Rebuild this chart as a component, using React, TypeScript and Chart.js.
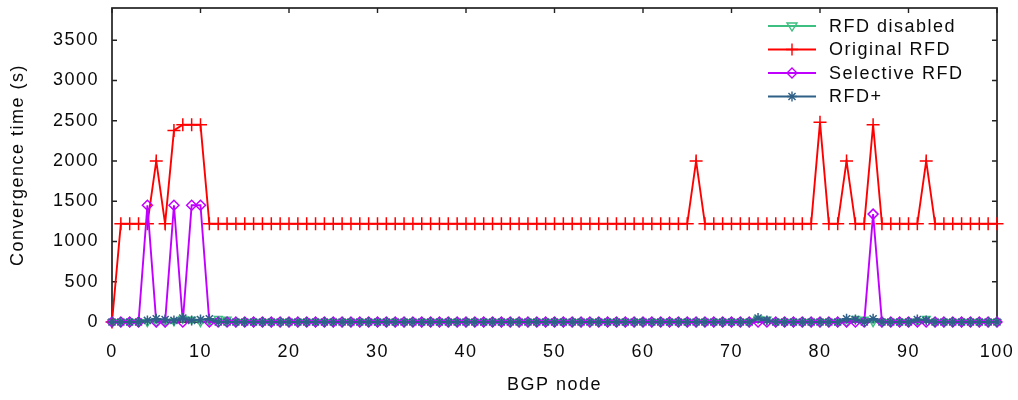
import React, { useEffect, useRef } from 'react';
import { Chart, registerables } from 'chart.js';

Chart.register(...registerables);

const nodes = [
  0, 1, 2, 3, 4, 5, 6, 7, 8, 9, 10, 11, 12, 13, 14, 15, 16, 17, 18, 19, 20,
  21, 22, 23, 24, 25, 26, 27, 28, 29, 30, 31, 32, 33, 34, 35, 36, 37, 38, 39, 40,
  41, 42, 43, 44, 45, 46, 47, 48, 49, 50, 51, 52, 53, 54, 55, 56, 57, 58, 59, 60,
  61, 62, 63, 64, 65, 66, 67, 68, 69, 70, 71, 72, 73, 74, 75, 76, 77, 78, 79, 80,
  81, 82, 83, 84, 85, 86, 87, 88, 89, 90, 91, 92, 93, 94, 95, 96, 97, 98, 99, 100,
];

const rfdDisabled = [
  0, 0, 0, 0, 0, 0, 0, 10, 40, 30, 0, 10, 40, 30, 0, 0, 0, 0, 0, 0, 0,
  0, 0, 0, 0, 0, 0, 0, 0, 0, 0, 0, 0, 0, 0, 0, 0, 0, 0, 0, 0,
  0, 0, 0, 0, 0, 0, 0, 0, 0, 0, 0, 0, 0, 0, 0, 0, 0, 0, 0, 0,
  0, 0, 0, 0, 0, 0, 0, 0, 0, 0, 0, 0, 40, 30, 0, 0, 0, 0, 0, 0,
  0, 0, 0, 40, 30, 0, 0, 0, 0, 0, 10, 40, 0, 0, 0, 0, 0, 0, 0, 0,
];

const originalRfd = [
  0, 1220, 1220, 1220, 1220, 2000, 1220, 2380, 2450, 2450, 2450, 1220, 1220, 1220, 1220, 1220, 1220, 1220, 1220, 1220, 1220,
  1220, 1220, 1220, 1220, 1220, 1220, 1220, 1220, 1220, 1220, 1220, 1220, 1220, 1220, 1220, 1220, 1220, 1220, 1220, 1220,
  1220, 1220, 1220, 1220, 1220, 1220, 1220, 1220, 1220, 1220, 1220, 1220, 1220, 1220, 1220, 1220, 1220, 1220, 1220, 1220,
  1220, 1220, 1220, 1220, 1220, 2000, 1220, 1220, 1220, 1220, 1220, 1220, 1220, 1220, 1220, 1220, 1220, 1220, 1220, 2480,
  1220, 1220, 2000, 1220, 1220, 2450, 1220, 1220, 1220, 1220, 1220, 2000, 1220, 1220, 1220, 1220, 1220, 1220, 1220, 1220,
];

const selectiveRfd = [
  0, 0, 0, 0, 1450, 0, 0, 1450, 0, 1450, 1450, 0, 0, 0, 0, 0, 0, 0, 0, 0, 0,
  0, 0, 0, 0, 0, 0, 0, 0, 0, 0, 0, 0, 0, 0, 0, 0, 0, 0, 0, 0,
  0, 0, 0, 0, 0, 0, 0, 0, 0, 0, 0, 0, 0, 0, 0, 0, 0, 0, 0, 0,
  0, 0, 0, 0, 0, 0, 0, 0, 0, 0, 0, 0, 0, 0, 0, 0, 0, 0, 0, 0,
  0, 0, 0, 0, 0, 1340, 0, 0, 0, 0, 0, 0, 0, 0, 0, 0, 0, 0, 0, 0,
];

const rfdPlus = [
  0, 0, 0, 0, 20, 40, 30, 20, 50, 20, 30, 40, 0, 0, 0, 0, 0, 0, 0, 0, 0,
  0, 0, 0, 0, 0, 0, 0, 0, 0, 0, 0, 0, 0, 0, 0, 0, 0, 0, 0, 0,
  0, 0, 0, 0, 0, 0, 0, 0, 0, 0, 0, 0, 0, 0, 0, 0, 0, 0, 0, 0,
  0, 0, 0, 0, 0, 0, 0, 0, 0, 0, 0, 0, 50, 20, 0, 0, 0, 0, 0, 0,
  0, 0, 40, 30, 0, 40, 0, 0, 0, 0, 30, 20, 0, 0, 0, 0, 0, 0, 0, 0,
];

const xTickValues = [0, 10, 20, 30, 40, 50, 60, 70, 80, 90, 100];
const yTickValues = [0, 500, 1000, 1500, 2000, 2500, 3000, 3500];

const seriesNames = ['RFD disabled', 'Original RFD', 'Selective RFD', 'RFD+'];
const seriesColors = ['#3cbf80', '#ff0000', '#c000ff', '#2f6088'];
const seriesMarkers = ['triangleDown', 'cross', 'diamond', 'star'];

const FONT = '"Liberation Sans", Arial, sans-serif';
const TEXT_COLOR = '#0a0a0a';
const SPACING = '1.5px';

function drawMarker(ctx: CanvasRenderingContext2D, kind: string, x: number, y: number, r: number) {
  ctx.beginPath();
  if (kind === 'triangleDown') {
    ctx.moveTo(x - r, y - r * 0.6);
    ctx.lineTo(x + r, y - r * 0.6);
    ctx.lineTo(x, y + r);
    ctx.closePath();
  } else if (kind === 'cross') {
    ctx.moveTo(x - r, y);
    ctx.lineTo(x + r, y);
    ctx.moveTo(x, y - r);
    ctx.lineTo(x, y + r);
  } else if (kind === 'diamond') {
    ctx.moveTo(x, y - r);
    ctx.lineTo(x + r, y);
    ctx.lineTo(x, y + r);
    ctx.lineTo(x - r, y);
    ctx.closePath();
  } else {
    const d = r * Math.SQRT1_2;
    ctx.moveTo(x - r, y);
    ctx.lineTo(x + r, y);
    ctx.moveTo(x, y - r);
    ctx.lineTo(x, y + r);
    ctx.moveTo(x - d, y - d);
    ctx.lineTo(x + d, y + d);
    ctx.moveTo(x - d, y + d);
    ctx.lineTo(x + d, y - d);
  }
  ctx.stroke();
}

const spacingPlugin = {
  id: 'spacing',
  beforeLayout(chart: any) {
    (chart.ctx as any).letterSpacing = SPACING;
  },
  beforeDraw(chart: any) {
    (chart.ctx as any).letterSpacing = SPACING;
  },
};

const framePlugin = {
  id: 'frame',
  beforeDatasetsDraw(chart: any) {
    const { ctx, chartArea: a, scales } = chart;
    ctx.save();
    ctx.strokeStyle = '#222222';
    ctx.lineWidth = 1.7;
    ctx.strokeRect(a.left, a.top, a.right - a.left, a.bottom - a.top);
    ctx.lineWidth = 1.4;
    ctx.beginPath();
    scales.y.ticks.forEach((t: any) => {
      const py = scales.y.getPixelForValue(t.value);
      ctx.moveTo(a.left, py);
      ctx.lineTo(a.left + 5, py);
      ctx.moveTo(a.right, py);
      ctx.lineTo(a.right - 5, py);
    });
    scales.x.ticks.forEach((t: any) => {
      const px = scales.x.getPixelForValue(t.value);
      ctx.moveTo(px, a.bottom);
      ctx.lineTo(px, a.bottom - 5);
      ctx.moveTo(px, a.top);
      ctx.lineTo(px, a.top + 5);
    });
    ctx.stroke();
    ctx.restore();
  },
  afterDatasetsDraw(chart: any) {
    const { ctx, chartArea: a } = chart;
    ctx.save();
    (ctx as any).letterSpacing = SPACING;
    const lineStart = a.right - 229;
    const lineEnd = a.right - 181;
    const markX = (lineStart + lineEnd) / 2;
    const textX = a.right - 168;
    const rowTop = a.top + 18;
    const rowStep = 23.5;
    ctx.font = `18px ${FONT}`;
    ctx.textBaseline = 'middle';
    ctx.textAlign = 'left';
    seriesNames.forEach((name, i) => {
      const y = rowTop + i * rowStep;
      ctx.strokeStyle = seriesColors[i];
      ctx.lineWidth = 1.8;
      ctx.beginPath();
      ctx.moveTo(lineStart, y);
      ctx.lineTo(lineEnd, y);
      ctx.stroke();
      ctx.lineWidth = 1.4;
      const r = seriesMarkers[i] === 'cross' ? 6 : 5;
      drawMarker(ctx, seriesMarkers[i], markX, y, r);
      ctx.fillStyle = TEXT_COLOR;
      ctx.fillText(name, textX, y + 1);
    });
    ctx.restore();
  },
};

export default function App() {
  const canvasRef = useRef<HTMLCanvasElement | null>(null);

  useEffect(() => {
    if (!canvasRef.current) return;
    const series = [rfdDisabled, originalRfd, selectiveRfd, rfdPlus];
    const pointStyles: any[] = ['triangle', 'cross', 'rectRot', 'star'];
    const rotations = [180, 0, 0, 0];
    const radii = [4.5, 6.5, 5, 5];
    const orders = [4, 3, 2, 1];
    const datasets = series.map((vals, i) => ({
      label: seriesNames[i],
      data: vals.map((v, j) => ({ x: nodes[j], y: v })),
      borderColor: seriesColors[i],
      backgroundColor: 'rgba(0,0,0,0)',
      borderWidth: 1.9,
      pointStyle: pointStyles[i],
      pointRotation: rotations[i],
      pointRadius: radii[i],
      pointBorderWidth: 1.5,
      pointBorderColor: seriesColors[i],
      pointBackgroundColor: 'rgba(0,0,0,0)',
      tension: 0,
      fill: false,
      clip: false as any,
      order: orders[i],
    }));

    const chart = new Chart(canvasRef.current, {
      type: 'line',
      data: { datasets },
      options: {
        animation: false,
        responsive: true,
        maintainAspectRatio: false,
        layout: { padding: { top: 7, right: 21, left: 0, bottom: 0 } },
        plugins: {
          legend: { display: false },
          tooltip: { enabled: false },
        },
        scales: {
          x: {
            type: 'linear',
            min: 0,
            max: 100,
            grid: { display: false, drawTicks: false },
            border: { display: false },
            afterBuildTicks: (s: any) => {
              s.ticks = xTickValues.map((v) => ({ value: v }));
            },
            ticks: {
              padding: 19,
              autoSkip: false,
              maxRotation: 0,
              color: TEXT_COLOR,
              font: { family: FONT, size: 18 },
              callback: (v: any) => String(v),
            },
            title: {
              display: true,
              text: 'BGP node',
              color: TEXT_COLOR,
              font: { family: FONT, size: 18 },
              padding: { top: 0, bottom: 4 },
            },
            afterFit: (s: any) => {
              s.height = 78;
              s.paddingLeft = 0;
              s.paddingRight = 0;
            },
          },
          y: {
            type: 'linear',
            min: 0,
            max: 3900,
            grid: { display: false, drawTicks: false },
            border: { display: false },
            afterBuildTicks: (s: any) => {
              s.ticks = yTickValues.map((v) => ({ value: v }));
            },
            ticks: {
              padding: 13,
              color: TEXT_COLOR,
              font: { family: FONT, size: 18 },
              callback: (v: any) => String(v),
            },
            title: {
              display: true,
              text: 'Convergence time (s)',
              color: TEXT_COLOR,
              font: { family: FONT, size: 18 },
              padding: { top: 7, bottom: 0 },
            },
            afterFit: (s: any) => {
              s.width = 112;
              s.paddingTop = 0;
              s.paddingBottom = 0;
            },
          },
        },
      },
      plugins: [spacingPlugin, framePlugin],
    });
    return () => chart.destroy();
  }, []);

  return (
    <div style={{ position: 'fixed', left: 0, top: 0, width: 1018, height: 400, background: '#fff' }}>
      <canvas ref={canvasRef} />
    </div>
  );
}
